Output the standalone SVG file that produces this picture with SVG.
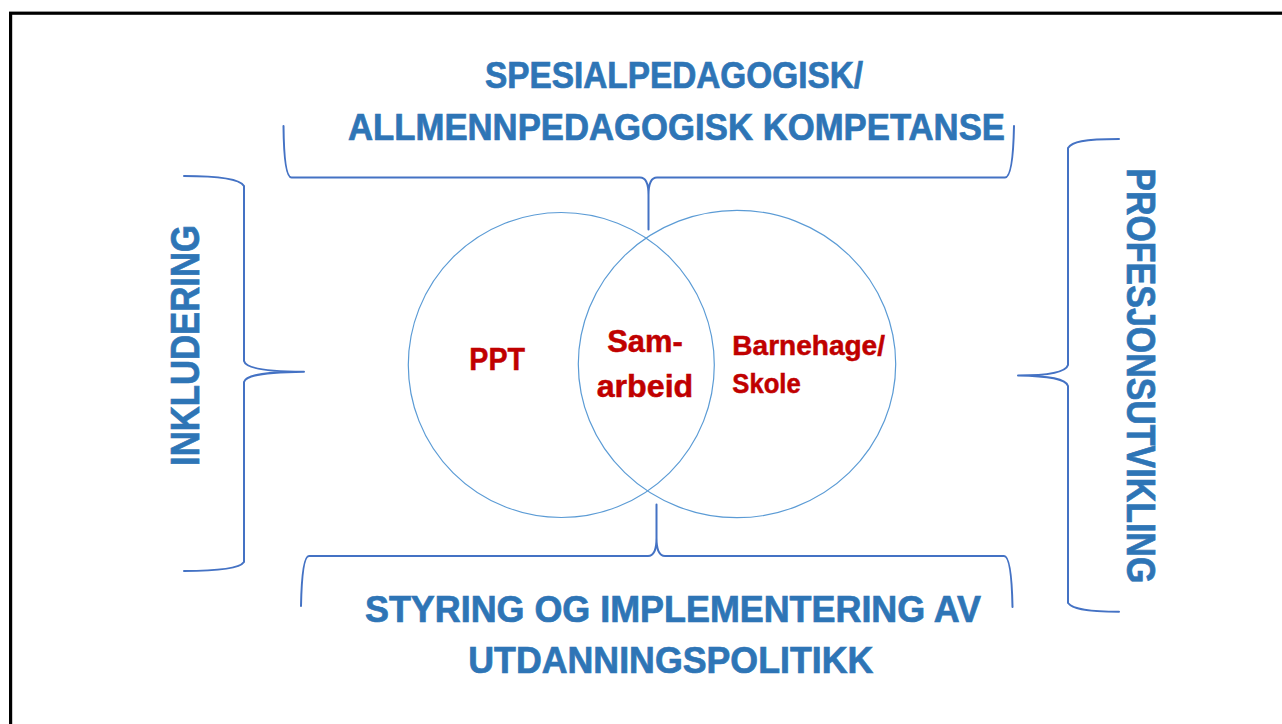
<svg xmlns="http://www.w3.org/2000/svg" width="1282" height="724" viewBox="0 0 1282 724">
<style>
.frame{fill:none;stroke:#000;stroke-width:3.2}
.circ{fill:none;stroke:#5B9BD5;stroke-width:1.2}
.brace{fill:none;stroke:#4472C4;stroke-width:2;stroke-linecap:round;stroke-linejoin:round}
.head{font-family:"Liberation Sans",Arial,sans-serif;font-weight:bold;font-size:36px;fill:#2E75B6;stroke:#2E75B6;stroke-width:0.7}
.side{font-family:"Liberation Sans",Arial,sans-serif;font-weight:bold;font-size:40px;fill:#2E75B6;stroke:#2E75B6;stroke-width:0.7}
.red{font-family:"Liberation Sans",Arial,sans-serif;font-weight:bold;fill:#C00000;stroke:#C00000;stroke-width:0.5}
</style>
<rect width="1282" height="724" fill="#fff"/>
<rect class="frame" x="10.6" y="13.2" width="1320" height="760"/>

<g id="node-ppt">
  <ellipse class="circ" cx="561.3" cy="365" rx="153" ry="152.5"/>
  <text class="red" x="469.3" y="370" font-size="32" textLength="55.7" lengthAdjust="spacingAndGlyphs">PPT</text>
</g>
<g id="node-barnehage-skole">
  <ellipse class="circ" cx="737" cy="364" rx="158.7" ry="153.7"/>
  <text class="red" x="732.3" y="355" font-size="28" textLength="152.7" lengthAdjust="spacingAndGlyphs">Barnehage/</text>
  <text class="red" x="732.3" y="392.7" font-size="28" textLength="68.4" lengthAdjust="spacingAndGlyphs">Skole</text>
</g>
<g id="node-samarbeid">
  <text class="red" x="607.3" y="352.3" font-size="31" textLength="75.4" lengthAdjust="spacingAndGlyphs">Sam-</text>
  <text class="red" x="596.7" y="396.7" font-size="31" textLength="96.6" lengthAdjust="spacingAndGlyphs">arbeid</text>
</g>

<g id="connectors">
  <path id="brace-top" class="brace" d="M283.5 126 Q284 177.5 291.5 177.5 L640 177.5 Q648.5 177.5 648.5 195 L648.5 229.5 M648.5 195 Q648.5 177.5 657 177.5 L1005 177.5 Q1013 177.5 1014 126"/>
  <path id="brace-bottom" class="brace" d="M301 606 Q302 556 309 556 L648 556 Q656.5 556 656.5 538 L656.5 504.5 M656.5 538 Q656.5 556 665 556 L1004 556 Q1011.5 556 1012.5 607"/>
  <path id="brace-left" class="brace" d="M184 176 C220 176 240 179 244 186 L244 361 C246 369 270 371.7 304 371.7 C270 372 246 374 244 382 L244 562 C240 568 220 571 184 571"/>
  <path id="brace-right" class="brace" d="M1119 139 C1083 139 1072 142 1068 148 L1068 365 C1066 372 1050 375.5 1018 375.5 C1050 376 1066 379 1068 386 L1068 603 C1072 608 1083 611.7 1119 611.7"/>
</g>

<g id="label-top">
  <text class="head" x="485" y="87.5" textLength="378" lengthAdjust="spacingAndGlyphs">SPESIALPEDAGOGISK/</text>
  <text class="head" x="348" y="139.5" textLength="657" lengthAdjust="spacingAndGlyphs">ALLMENNPEDAGOGISK KOMPETANSE</text>
</g>
<g id="label-bottom">
  <text class="head" x="365" y="621.7" textLength="616" lengthAdjust="spacingAndGlyphs">STYRING OG IMPLEMENTERING AV</text>
  <text class="head" x="468.3" y="673.3" textLength="405" lengthAdjust="spacingAndGlyphs">UTDANNINGSPOLITIKK</text>
</g>
<g id="label-left">
  <text class="side" transform="translate(199.3 466) rotate(-90)" x="0" y="0" textLength="241" lengthAdjust="spacingAndGlyphs">INKLUDERING</text>
</g>
<g id="label-right">
  <text class="side" transform="translate(1126.7 168.3) rotate(90)" x="0" y="0" textLength="415" lengthAdjust="spacingAndGlyphs">PROFESJONSUTVIKLING</text>
</g>
</svg>
